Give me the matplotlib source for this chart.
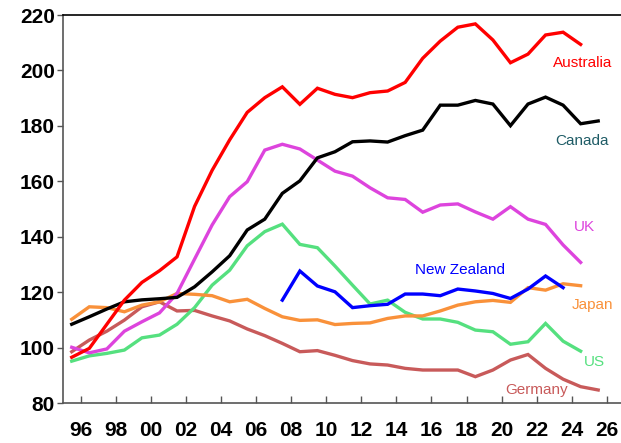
import matplotlib
matplotlib.use('Agg')
import matplotlib.pyplot as plt

plt.rcParams['font.family'] = ['Liberation Sans', 'DejaVu Sans']

years = list(range(1995, 2026))

australia = [96.6, 99.8, 108.5, 117.2, 123.6, 127.8, 132.8, 151.0, 164.0, 175.0,
             184.9, 190.2, 194.1, 187.8, 193.6, 191.4, 190.2, 192.0, 192.6, 195.7,
             204.4, 210.6, 215.6, 216.8, 211.0, 202.8, 205.9, 212.8, 213.8, 209.4]
canada = [108.5, 111.2, 114.0, 116.6, 117.3, 117.7, 118.2, 122.0, 127.4, 133.2,
          142.5, 146.4, 155.7, 160.2, 168.5, 170.7, 174.3, 174.6, 174.2, 176.5,
          178.5, 187.5, 187.5, 189.2, 187.9, 180.1, 187.9, 190.4, 187.5, 180.8, 181.8]
uk = [100.2, 98.2, 99.6, 106.0, 109.4, 112.6, 119.6, 132.0, 144.3, 154.5,
      159.9, 171.3, 173.4, 171.7, 167.7, 163.7, 161.9, 157.7, 154.1, 153.5,
      148.9, 151.5, 151.9, 149.0, 146.4, 150.9, 146.4, 144.5, 137.1, 130.8]
us = [95.2, 97.1, 98.0, 99.2, 103.6, 104.6, 108.5, 114.5, 122.6, 128.0,
      136.8, 141.9, 144.6, 137.3, 136.1, 129.5, 122.6, 115.8, 117.2, 112.8,
      110.4, 110.4, 109.2, 106.4, 105.8, 101.3, 102.2, 108.8, 102.4, 98.8]
japan = [110.3, 114.8, 114.5, 113.0, 115.4, 116.6, 119.6, 119.3, 118.8, 116.6,
         117.5, 114.2, 111.2, 109.9, 110.1, 108.4, 108.8, 109.0, 110.6, 111.5,
         111.5, 113.3, 115.4, 116.6, 117.1, 116.4, 121.7, 120.8, 123.1, 122.4]
germany = [98.6, 102.8, 106.0, 110.0, 114.8, 116.6, 113.3, 113.5, 111.5, 109.7,
           106.8, 104.4, 101.6, 98.6, 99.0, 97.3, 95.4, 94.2, 93.8, 92.6,
           92.0, 92.0, 92.0, 89.6, 92.0, 95.6, 97.6, 92.6, 88.7, 86.0, 84.8]

nz_years = list(range(2007, 2024))
new_zealand = [117.2, 127.7, 122.3, 120.2, 114.5, 115.2, 115.7, 119.4, 119.4, 118.8,
               121.2, 120.5, 119.6, 117.8, 121.2, 125.9, 121.7]

xticks = list(range(1996, 2027, 2))
yticks = list(range(80, 221, 20))

series = [
    ('Germany', years, germany, '#C85A5A'),
    ('US', years, us, '#55E07F'),
    ('Japan', years, japan, '#F9913A'),
    ('New Zealand', nz_years, new_zealand, '#0000FF'),
    ('UK', years, uk, '#DD44DD'),
    ('Canada', years, canada, '#000000'),
    ('Australia', years, australia, '#FF0000'),
]

# label placement (x in years, y at text baseline)
labels = {
    'Australia': (2024.6, 201.1, '#FF0000'),
    'Canada': (2024.6, 173.0, '#1F5C66'),
    'UK': (2024.7, 142.3, '#DD44DD'),
    'New Zealand': (2017.6, 126.6, '#0000FF'),
    'Japan': (2025.15, 114.0, '#F9913A'),
    'US': (2025.3, 93.4, '#55E07F'),
    'Germany': (2022.0, 83.5, '#C85A5A'),
}

fig = plt.figure(figsize=(6.21, 4.43), dpi=100)
ax = fig.add_axes([0.1014, 0.0896, 0.8986, 0.8765])

for name, yrs, vals, color in series:
    # annual figures drawn at mid-year
    xs = [y + 0.5 for y in yrs[:len(vals)]]
    ax.plot(xs, vals, color=color, lw=2.4, solid_joinstyle='miter')

for name, (x, y, color) in labels.items():
    ax.text(x, y, name, color=color, fontsize=11, ha='center', va='baseline')

ax.set_xlim(1995, 2026.8)
ax.set_ylim(80, 220)
ax.set_xticks(xticks)
ax.set_xticklabels(['%02d' % (y % 100) for y in xticks])
ax.set_yticks(yticks)
ax.tick_params(axis='x', direction='in', length=5, width=1, pad=13, colors='#555555',
               labelcolor='black', labelsize=15)
ax.tick_params(axis='y', direction='out', length=4, width=1, pad=2, colors='#555555',
               labelcolor='black', labelsize=15)
for lab in ax.get_xticklabels() + ax.get_yticklabels():
    lab.set_fontweight('bold')

ax.spines['right'].set_visible(False)
ax.spines['top'].set_color('black')
ax.spines['left'].set_color('#555555')
ax.spines['bottom'].set_color('#555555')
for sp in ax.spines.values():
    sp.set_linewidth(1.2)

fig.savefig('out.png', dpi=100)
